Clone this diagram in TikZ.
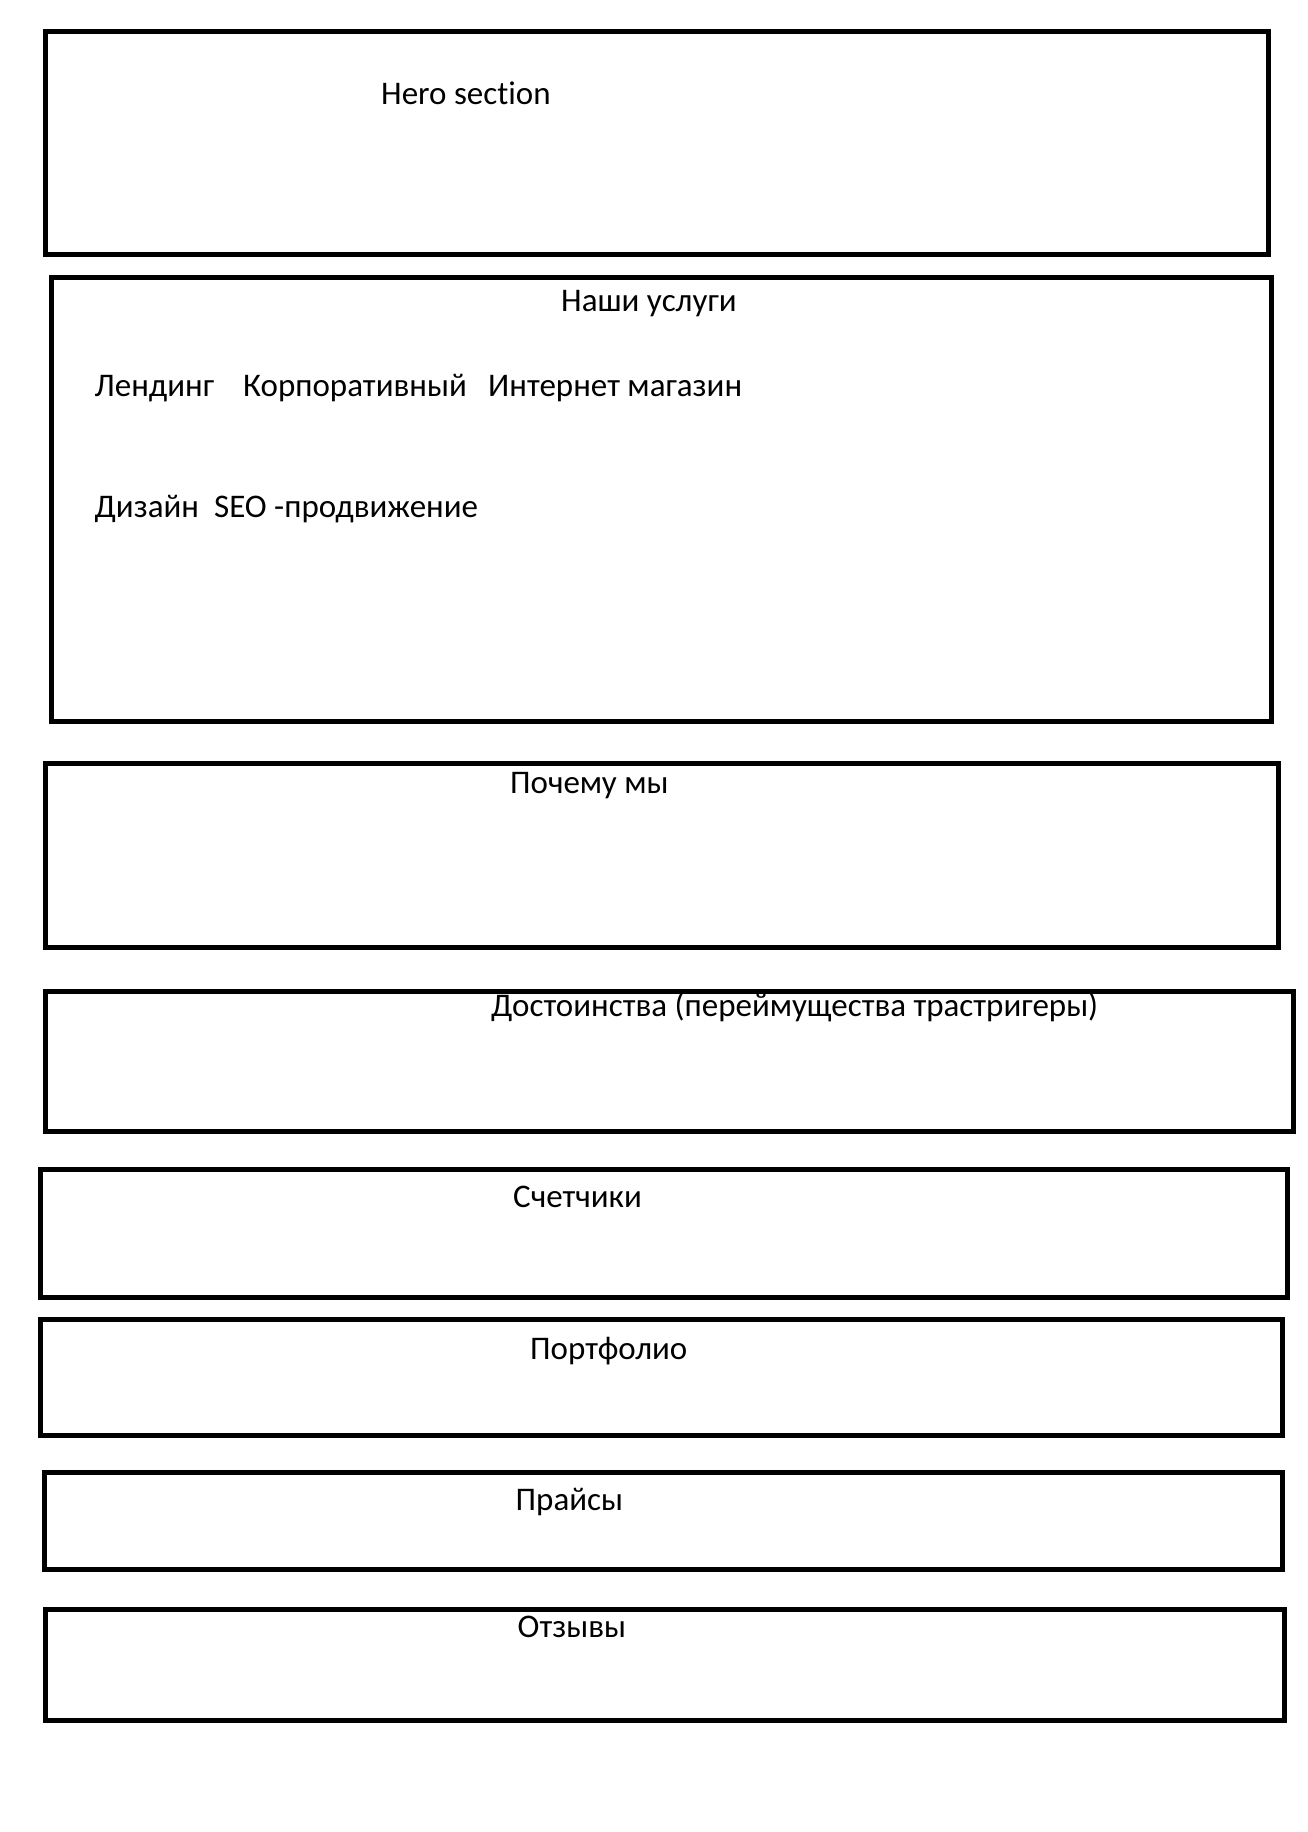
\documentclass[tikz,border=0pt]{standalone}
\usepackage{fontspec}
\setmainfont[Ligatures=CommonOff]{Carlito}
\begin{document}
\begin{tikzpicture}[x=1pt,y=-1pt,
  sect/.style={draw=black,line width=5pt},
  lbl/.style={anchor=base west,inner sep=0pt,font=\fontsize{33}{39}\selectfont}]
\useasboundingbox (0,0) rectangle (1308,1832);
% section frames
\draw[sect] (45.5,31) rectangle (1268.5,254);
\draw[sect] (51,277) rectangle (1271,721);
\draw[sect] (45.5,763.5) rectangle (1278,947.5);
\draw[sect] (45.5,991.5) rectangle (1293,1131.5);
\draw[sect] (40,1169.5) rectangle (1287,1297);
\draw[sect] (40,1319.5) rectangle (1282,1435.5);
\draw[sect] (44,1472) rectangle (1282,1569.5);
\draw[sect] (45.5,1609) rectangle (1284,1720.5);
% section titles
\node[lbl] (hero) at (381,104) {Hero section};
\node[lbl] (uslugi) at (561,311) {Наши услуги};
\node[lbl] (lend) at (94.5,396) {Лендинг};
\node[lbl] (korp) at (243,396) {Корпоративный};
\node[lbl] (shop) at (488,396) {Интернет магазин};
\node[lbl] (dizain) at (94.5,517) {Дизайн};
\node[lbl] (seo) at (214,517) {SEO -продвижение};
\node[lbl] (pochemu) at (510,793) {Почему мы};
\node[lbl] (dost) at (491,1016) {Достоинства (переймущества трастригеры)};
\node[lbl] (schet) at (513,1207) {Счетчики};
\node[lbl] (portf) at (530,1359) {Портфолио};
\node[lbl] (price) at (515.5,1510) {Прайсы};
\node[lbl] (otz) at (517.5,1637) {Отзывы};
\end{tikzpicture}
\end{document}
